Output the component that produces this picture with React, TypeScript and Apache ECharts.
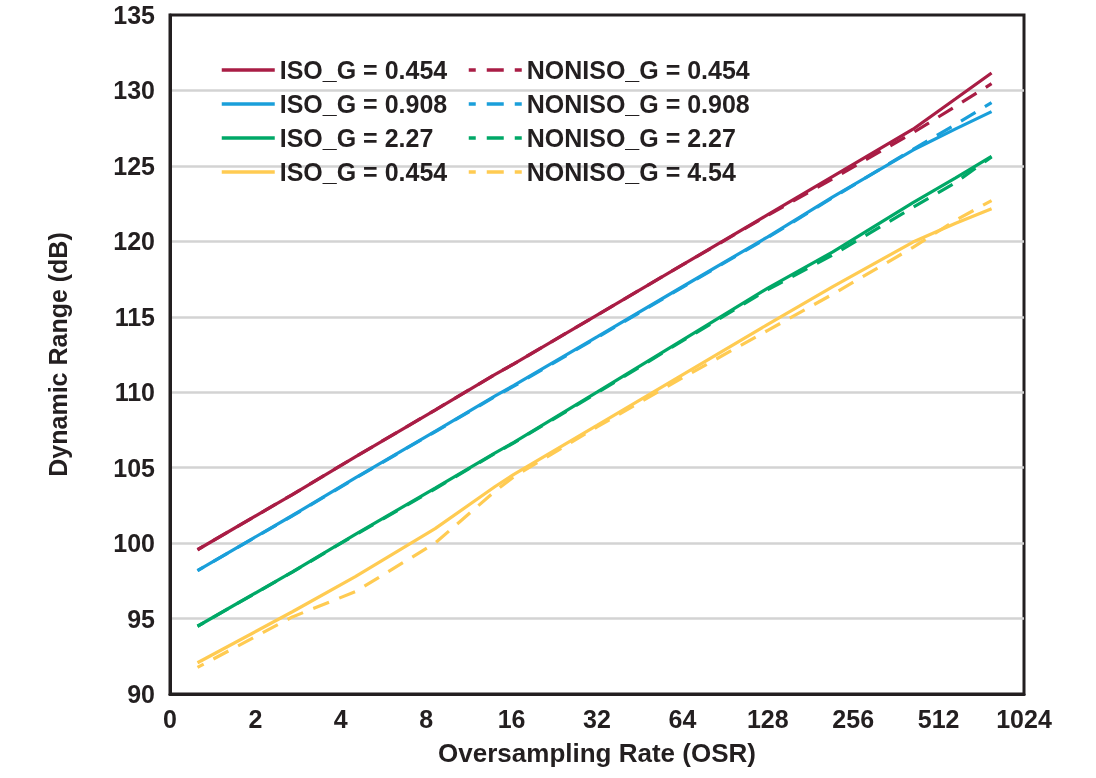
import React, { useEffect, useRef } from "react";
import * as echarts from "echarts";

const xLabels = ["0", "2", "4", "8", "16", "32", "64", "128", "256", "512", "1024"];
const osr = [1.25, 2.7, 4.5, 8.6, 14, 16.3, 32, 64, 128, 217, 416, 588, 787];

const isoRed = [99.56, 103.22, 105.72, 108.82, 111.18, 111.88, 115.11, 118.44, 121.77, 124.3, 127.43, 129.45, 131.16];
const nonisoRed = [99.56, 103.22, 105.72, 108.82, 111.18, 111.88, 115.11, 118.44, 121.72, 124.15, 127.2, 128.95, 130.45];
const isoBlue = [98.18, 101.83, 104.32, 107.4, 109.76, 110.45, 113.67, 116.99, 120.3, 122.95, 126.05, 127.45, 128.6];
const nonisoBlue = [98.18, 101.8, 104.3, 107.38, 109.72, 110.4, 113.62, 116.95, 120.25, 122.9, 126.1, 127.75, 129.2];
const isoGreen = [94.49, 98.1, 100.58, 103.64, 105.98, 106.68, 110.0, 113.45, 116.9, 119.3, 122.56, 124.2, 125.63];
const nonisoGreen = [94.49, 98.08, 100.55, 103.6, 105.95, 106.65, 109.95, 113.4, 116.8, 119.1, 122.25, 123.9, 125.6];
const isoYellow = [92.07, 95.45, 97.78, 100.96, 103.75, 104.56, 107.8, 111.15, 114.5, 117.0, 119.95, 121.2, 122.16];
const nonisoYellow = [91.76, 95.11, 96.78, 100.0, 103.45, 104.4, 107.7, 110.95, 114.1, 116.5, 119.6, 121.4, 122.7];

const isoLabels = ["ISO_G = 0.454", "ISO_G = 0.908", "ISO_G = 2.27", "ISO_G = 0.454"];
const nonisoLabels = ["NONISO_G = 0.454", "NONISO_G = 0.908", "NONISO_G = 2.27", "NONISO_G = 4.54"];
const colors = ["#A91D45", "#1A9FDA", "#00A867", "#FFCB52"];

const isoValues = [isoRed, isoBlue, isoGreen, isoYellow];
const nonisoValues = [nonisoRed, nonisoBlue, nonisoGreen, nonisoYellow];

const FONT = "'Liberation Sans', Arial, sans-serif";
const INK = "#231F20";

export default function App() {
  const ref = useRef<HTMLDivElement>(null);
  useEffect(() => {
    if (!ref.current) return;
    const chart = echarts.init(ref.current, undefined, { renderer: "svg" });
    const toPts = (vals: number[]) => vals.map((v, i) => [Math.log2(osr[i]), v]);
    const nameMap: Record<string, string> = {};
    const series: any[] = [];
    isoValues.forEach((vals, i) => {
      const id = "iso" + i;
      nameMap[id] = isoLabels[i];
      series.push({
        name: id,
        type: "line",
        data: toPts(vals),
        symbol: "none",
        z: 3,
        lineStyle: { color: colors[i], width: 3.2 },
        itemStyle: { color: colors[i] },
      });
    });
    nonisoValues.forEach((vals, i) => {
      const id = "noniso" + i;
      nameMap[id] = nonisoLabels[i];
      series.push({
        name: id,
        type: "line",
        data: toPts(vals),
        symbol: "none",
        z: 4,
        lineStyle: { color: colors[i], width: 3.2, type: [17, 11], dashOffset: 10 },
        itemStyle: { color: colors[i] },
      });
    });
    const legendText = {
      fontFamily: FONT,
      fontWeight: "bold",
      fontSize: 25,
      lineHeight: 30,
      color: INK,
    };
    const legendCommon = {
      orient: "vertical",
      top: 55,
      itemWidth: 53,
      itemHeight: 14,
      itemGap: 4,
      padding: 0,
      formatter: (n: string) => nameMap[n],
      textStyle: legendText,
      selectedMode: false,
      itemStyle: { opacity: 0 },
      lineStyle: { width: 3.5 },
    };
    const axisLine = { show: true, lineStyle: { color: INK, width: 3 } };
    chart.setOption({
      animation: false,
      grid: {
        left: 170,
        right: 72,
        top: 15,
        bottom: 84,
        show: true,
        borderColor: INK,
        borderWidth: 3,
        backgroundColor: "transparent",
      },
      legend: [
        { ...legendCommon, data: ["iso0", "iso1", "iso2", "iso3"], left: 220 },
        { ...legendCommon, data: ["noniso0", "noniso1", "noniso2", "noniso3"], left: 467 },
      ],
      xAxis: {
        type: "value",
        min: 0,
        max: 10,
        interval: 1,
        name: "Oversampling Rate (OSR)",
        nameLocation: "middle",
        nameGap: 46,
        nameTextStyle: { fontFamily: FONT, fontWeight: "bold", fontSize: 26, color: INK },
        axisLine,
        axisTick: { show: false },
        splitLine: { show: false },
        axisLabel: {
          margin: 12,
          fontFamily: FONT,
          fontWeight: "bold",
          fontSize: 25,
          color: INK,
          formatter: (v: number) => xLabels[Math.round(v)] ?? "",
        },
      },
      yAxis: {
        type: "value",
        min: 90,
        max: 135,
        interval: 5,
        name: "Dynamic Range (dB)",
        nameLocation: "middle",
        nameGap: 100,
        nameRotate: 90,
        nameTextStyle: { fontFamily: FONT, fontWeight: "bold", fontSize: 25, color: INK },
        axisLine,
        axisTick: { show: false },
        splitLine: {
          show: true,
          showMinLine: false,
          showMaxLine: false,
          lineStyle: { color: "#D3D3D3", width: 2.5 },
        },
        axisLabel: {
          margin: 15,
          fontFamily: FONT,
          fontWeight: "bold",
          fontSize: 25,
          color: INK,
        },
      },
      series,
    });
    return () => chart.dispose();
  }, []);
  return (
    <div
      ref={ref}
      style={{ position: "fixed", left: 0, top: 0, width: 1096, height: 778 }}
    />
  );
}
